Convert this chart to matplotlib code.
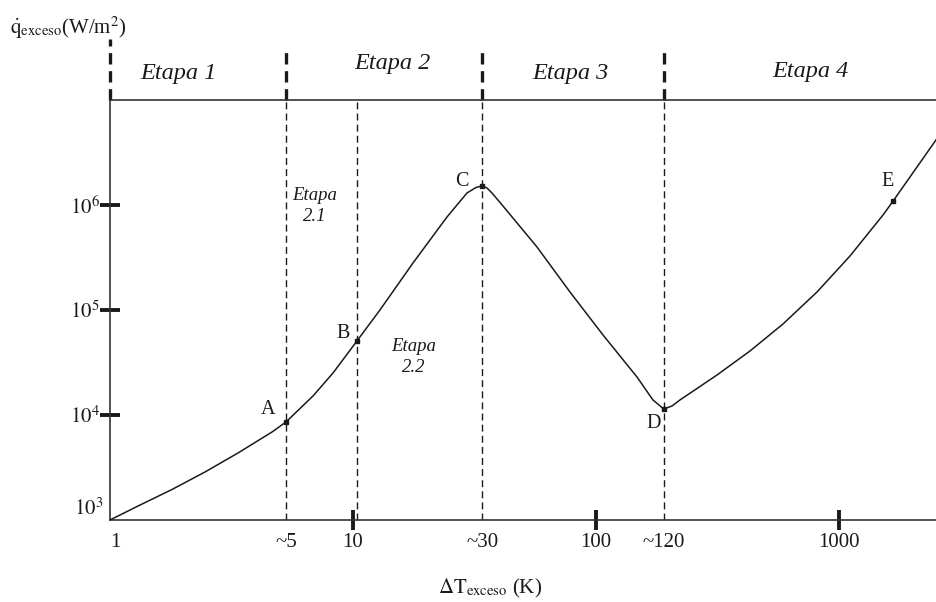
import matplotlib
matplotlib.use("Agg")
import matplotlib.pyplot as plt
import matplotlib.transforms as mtransforms

plt.rcParams["font.family"] = ["Liberation Serif", "DejaVu Serif"]
plt.rcParams["mathtext.fontset"] = "stix"

# Boiling curve: excess heat flux vs excess wall temperature (log-log)
dT = [1.0, 1.304, 1.799, 2.460, 3.363, 4.642, 5.30, 6.846, 8.276, 10.4,
      12.91, 17.66, 24.37, 29.45, 32.08, 34.0, 35.60, 37.33, 41.42, 57.18,
      78.16, 106.9, 147.5, 171.6, 181.7, 190, 205.5, 221.6, 314.8, 430.3,
      588.3, 812.1, 1110, 1518, 1670, 2532]
q = [1000, 1359, 1952, 2865, 4346, 6887, 8577, 15170, 25120, 51000,
     1.0e5, 2.804e5, 7.689e5, 1.301e6, 1.468e6, 1.52e6, 1.452e6, 1.301e6,
     9.784e5, 3.981e5, 1.484e5, 5.781e4, 2.301e4, 1.390e4, 1.245e4, 1.14e4,
     1.218e4, 1.390e4, 2.404e4, 4.069e4, 7.356e4, 1.484e5, 3.268e5,
     8.031e5, 1.09e6, 4.298e6]

# Characteristic points of the curve
point_names = ["A", "B", "C", "D", "E"]
point_dT = [5.30, 10.4, 34.0, 190, 1670]
point_q = [8577, 51000, 1.52e6, 1.14e4, 1.09e6]

# Stage boundaries (ΔT) and stage titles
stage_bounds = [1.0, 5.30, 34.0, 190]
sub_bound = [10.4]
stage_names = ["Etapa 1", "Etapa 2", "Etapa 3", "Etapa 4"]
stage_label_dT = [1.905, 14.47, 78.2, 760]
sub_names = ["Etapa\n2.1", "Etapa\n2.2"]
sub_label_dT = [6.98, 17.7]
sub_label_q = [9.8e5, 3.56e4]

# Axis ticks
x_major = [10, 100, 1000]
x_major_labels = ["10", "100", "1000"]
x_minor = [1.0, 5.30, 34.0, 190]
x_minor_labels = ["1", "~5", "~30", "~120"]
y_major = [1e4, 1e5, 1e6]
y_major_labels = [r"$10^4$", r"$10^5$", r"$10^6$"]
y_minor = [1e3]
y_minor_labels = [r"$10^3$"]

INK = "#1a1a1a"

fig = plt.figure(figsize=(9.37, 6.02), dpi=100)
ax = fig.add_axes([110 / 937, 82 / 602, 827 / 937, 420 / 602])
ax.set_xscale("log")
ax.set_yscale("log")
ax.set_xlim(1.0, 2532)
ax.set_ylim(1e3, 1e7)

# curve and points
ax.plot(dT, q, color=INK, lw=1.1, solid_joinstyle="round", zorder=3)
ax.plot(point_dT, point_q, "s", color=INK, ms=3.2, zorder=4)
label_offsets = [(-18, 12), (-14, 7), (-20, 4), (-10, -14), (-6, 20)]
for name, x, y, off in zip(point_names, point_dT, point_q, label_offsets):
    ax.annotate(name, (x, y), xytext=off, textcoords="offset pixels",
                ha="center", va="center", fontsize=14.5, color=INK)

# vertical dashed guides inside the plot
for x in stage_bounds[1:] + sub_bound:
    ax.axvline(x, color=INK, lw=1.0, dashes=(5, 3), zorder=2)

# thick dashed separators in the stage header band
trans = mtransforms.blended_transform_factory(ax.transData, ax.transAxes)
for i, x in enumerate(stage_bounds):
    top = 1.145 if i == 0 else 1.115
    ax.plot([x, x], [1.0, top], transform=trans, color=INK, lw=2.4,
            dashes=(3.4, 2.0), clip_on=False, solid_capstyle="butt")

header_y = [1.062, 1.088, 1.062, 1.068]
for name, x, y in zip(stage_names, stage_label_dT, header_y):
    ax.text(x, y, name, transform=trans, ha="center", va="center",
            fontsize=17.5, style="italic", color=INK)

for name, x, y in zip(sub_names, sub_label_dT, sub_label_q):
    ax.text(x, y, name, ha="center", va="center", fontsize=13.5,
            style="italic", color=INK, linespacing=1.3)

# spines
for side in ["left", "bottom", "top"]:
    ax.spines[side].set_color("#333333")
    ax.spines[side].set_linewidth(1.2)
ax.spines["right"].set_visible(False)

# ticks
ax.set_xticks(x_major, x_major_labels)
ax.set_xticks(x_minor, x_minor_labels, minor=True)
ax.set_yticks(y_major, y_major_labels)
ax.set_yticks(y_minor, y_minor_labels, minor=True)
ax.tick_params(which="major", direction="inout", length=14, width=2.8,
               color=INK, labelsize=15, labelcolor=INK)
ax.tick_params(axis="x", which="major", pad=2.4)
ax.tick_params(axis="y", which="major", pad=0.5)
ax.tick_params(which="minor", length=0, labelsize=15, labelcolor=INK)
ax.tick_params(axis="x", which="minor", pad=9.4)
ax.tick_params(axis="y", which="minor", pad=5)
for t in ax.yaxis.get_minorticklabels():
    t.set_verticalalignment("bottom")
for t in ax.xaxis.get_minorticklabels():
    if t.get_text() == "1":
        t.set_horizontalalignment("left")

# axis titles
fig.text(490 / 937, 1 - 588 / 602, r"$\Delta\mathrm{T}_{\mathrm{exceso}}$ (K)",
         ha="center", va="center", fontsize=15, color=INK)
fig.text(10 / 937, 1 - 28 / 602,
         r"$\dot{\mathrm{q}}_{\mathrm{exceso}}$(W/m$^2$)",
         ha="left", va="center", fontsize=15, color=INK)

fig.savefig("out.png", dpi=100)
